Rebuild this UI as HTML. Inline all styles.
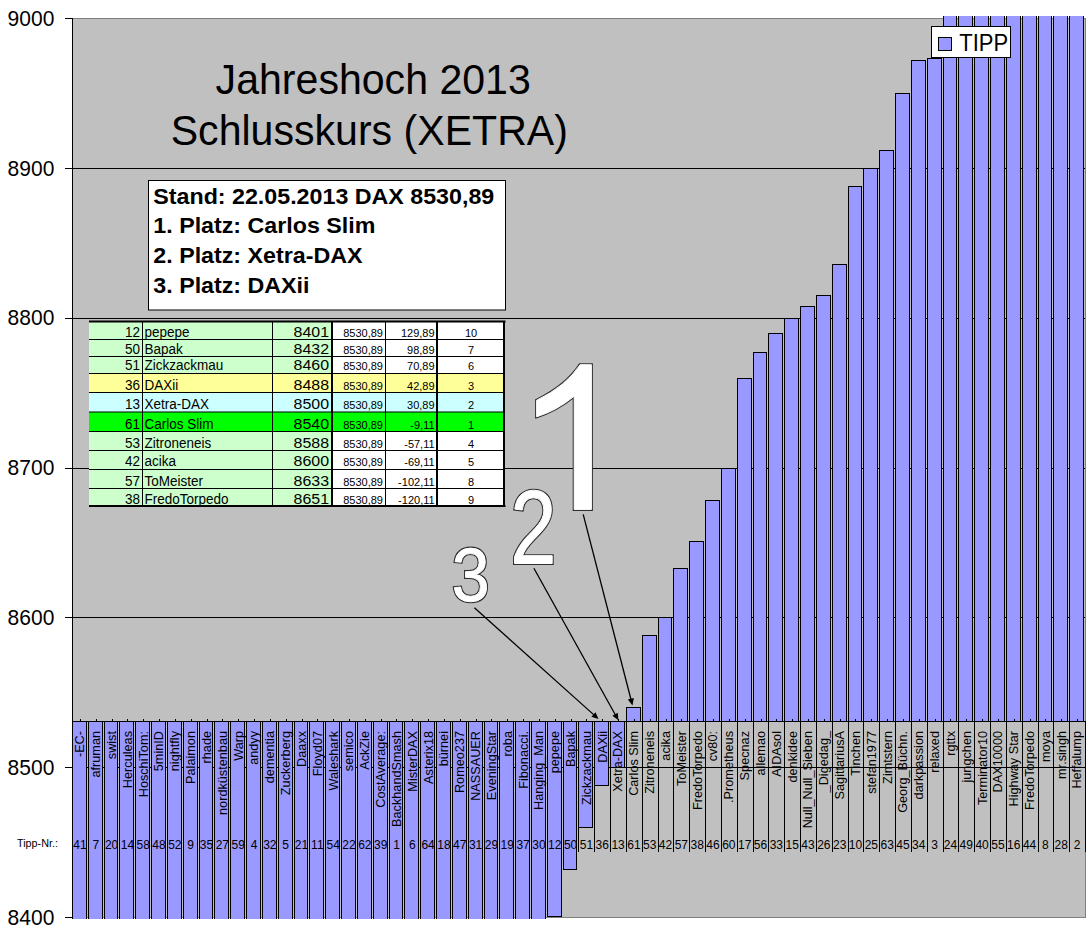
<!DOCTYPE html><html><head><meta charset="utf-8"><style>html,body{margin:0;padding:0;background:#fff;width:1088px;height:928px;overflow:hidden}svg{display:block}text{font-family:"Liberation Sans",sans-serif}</style></head><body>
<svg width="1088" height="928" viewBox="0 0 1088 928">
<rect x="72.0" y="18.0" width="1013.0" height="899.0" fill="#c0c0c0"/>
<line x1="72.0" y1="168.5" x2="1085.0" y2="168.5" stroke="#000"/>
<line x1="72.0" y1="318.5" x2="1085.0" y2="318.5" stroke="#000"/>
<line x1="72.0" y1="468.5" x2="1085.0" y2="468.5" stroke="#000"/>
<line x1="72.0" y1="617.5" x2="1085.0" y2="617.5" stroke="#000"/>
<line x1="72.0" y1="767.5" x2="1085.0" y2="767.5" stroke="#000"/>
<rect x="72.5" y="18.5" width="1013.0" height="899.0" fill="none" stroke="#808080"/>
<defs><clipPath id="pc"><rect x="0" y="16" width="1088" height="903"/></clipPath></defs>
<g clip-path="url(#pc)" fill="#9999ff" stroke="#000">
<rect x="72.5" y="721.5" width="14" height="204"/>
<rect x="88.5" y="721.5" width="14" height="204"/>
<rect x="104.5" y="721.5" width="13" height="204"/>
<rect x="119.5" y="721.5" width="14" height="204"/>
<rect x="135.5" y="721.5" width="14" height="204"/>
<rect x="151.5" y="721.5" width="14" height="204"/>
<rect x="167.5" y="721.5" width="14" height="204"/>
<rect x="183.5" y="721.5" width="14" height="204"/>
<rect x="199.5" y="721.5" width="13" height="204"/>
<rect x="214.5" y="721.5" width="14" height="204"/>
<rect x="230.5" y="721.5" width="14" height="204"/>
<rect x="246.5" y="721.5" width="14" height="204"/>
<rect x="262.5" y="721.5" width="14" height="204"/>
<rect x="278.5" y="721.5" width="14" height="204"/>
<rect x="294.5" y="721.5" width="13" height="204"/>
<rect x="309.5" y="721.5" width="14" height="204"/>
<rect x="325.5" y="721.5" width="14" height="204"/>
<rect x="341.5" y="721.5" width="14" height="204"/>
<rect x="357.5" y="721.5" width="14" height="204"/>
<rect x="373.5" y="721.5" width="14" height="204"/>
<rect x="389.5" y="721.5" width="13" height="204"/>
<rect x="404.5" y="721.5" width="14" height="204"/>
<rect x="420.5" y="721.5" width="14" height="204"/>
<rect x="436.5" y="721.5" width="14" height="204"/>
<rect x="452.5" y="721.5" width="14" height="204"/>
<rect x="468.5" y="721.5" width="14" height="204"/>
<rect x="484.5" y="721.5" width="13" height="204"/>
<rect x="499.5" y="721.5" width="14" height="204"/>
<rect x="515.5" y="721.5" width="14" height="204"/>
<rect x="531.5" y="721.5" width="14" height="204"/>
<rect x="547.5" y="721.5" width="14" height="195"/>
<rect x="563.5" y="721.5" width="13" height="148"/>
<rect x="578.5" y="721.5" width="14" height="106"/>
<rect x="594.5" y="721.5" width="14" height="64"/>
<rect x="610.5" y="721.5" width="14" height="46"/>
<rect x="626.5" y="707.5" width="14" height="14"/>
<rect x="642.5" y="635.5" width="14" height="86"/>
<rect x="658.5" y="617.5" width="13" height="104"/>
<rect x="673.5" y="568.5" width="14" height="153"/>
<rect x="689.5" y="541.5" width="14" height="180"/>
<rect x="705.5" y="500.5" width="14" height="221"/>
<rect x="721.5" y="468.5" width="14" height="253"/>
<rect x="737.5" y="378.5" width="14" height="343"/>
<rect x="753.5" y="352.5" width="13" height="369"/>
<rect x="768.5" y="333.5" width="14" height="388"/>
<rect x="784.5" y="318.5" width="14" height="403"/>
<rect x="800.5" y="306.5" width="14" height="415"/>
<rect x="816.5" y="295.5" width="14" height="426"/>
<rect x="832.5" y="264.5" width="14" height="457"/>
<rect x="848.5" y="186.5" width="13" height="535"/>
<rect x="863.5" y="168.5" width="14" height="553"/>
<rect x="879.5" y="150.5" width="14" height="571"/>
<rect x="895.5" y="93.5" width="14" height="628"/>
<rect x="911.5" y="60.5" width="14" height="661"/>
<rect x="927.5" y="58.5" width="14" height="663"/>
<rect x="943.5" y="14.5" width="13" height="707"/>
<rect x="958.5" y="14.5" width="14" height="707"/>
<rect x="974.5" y="14.5" width="14" height="707"/>
<rect x="990.5" y="14.5" width="14" height="707"/>
<rect x="1006.5" y="14.5" width="14" height="707"/>
<rect x="1022.5" y="14.5" width="14" height="707"/>
<rect x="1038.5" y="14.5" width="13" height="707"/>
<rect x="1053.5" y="14.5" width="14" height="707"/>
<rect x="1069.5" y="14.5" width="14" height="707"/>
</g>
<line x1="72.0" y1="721.5" x2="1086.0" y2="721.5" stroke="#000"/>
<path d="M80.5 719.0V721.5M96.5 719.0V721.5M112.5 719.0V721.5M127.5 719.0V721.5M143.5 719.0V721.5M159.5 719.0V721.5M175.5 719.0V721.5M191.5 719.0V721.5M207.5 719.0V721.5M222.5 719.0V721.5M238.5 719.0V721.5M254.5 719.0V721.5M270.5 719.0V721.5M286.5 719.0V721.5M302.5 719.0V721.5M317.5 719.0V721.5M333.5 719.0V721.5M349.5 719.0V721.5M365.5 719.0V721.5M381.5 719.0V721.5M396.5 719.0V721.5M412.5 719.0V721.5M428.5 719.0V721.5M444.5 719.0V721.5M460.5 719.0V721.5M476.5 719.0V721.5M491.5 719.0V721.5M507.5 719.0V721.5M523.5 719.0V721.5M539.5 719.0V721.5M555.5 719.0V721.5M571.5 719.0V721.5M586.5 719.0V721.5M602.5 719.0V721.5M618.5 719.0V721.5M634.5 719.0V721.5M650.5 719.0V721.5M666.5 719.0V721.5M681.5 719.0V721.5M697.5 719.0V721.5M713.5 719.0V721.5M729.5 719.0V721.5M745.5 719.0V721.5M761.5 719.0V721.5M776.5 719.0V721.5M792.5 719.0V721.5M808.5 719.0V721.5M824.5 719.0V721.5M840.5 719.0V721.5M855.5 719.0V721.5M871.5 719.0V721.5M887.5 719.0V721.5M903.5 719.0V721.5M919.5 719.0V721.5M935.5 719.0V721.5M950.5 719.0V721.5M966.5 719.0V721.5M982.5 719.0V721.5M998.5 719.0V721.5M1014.5 719.0V721.5M1030.5 719.0V721.5M1045.5 719.0V721.5M1061.5 719.0V721.5M1077.5 719.0V721.5M72.5 721.5V852M88.5 721.5V852M104.5 721.5V852M119.5 721.5V852M135.5 721.5V852M151.5 721.5V852M167.5 721.5V852M183.5 721.5V852M199.5 721.5V852M214.5 721.5V852M230.5 721.5V852M246.5 721.5V852M262.5 721.5V852M278.5 721.5V852M294.5 721.5V852M309.5 721.5V852M325.5 721.5V852M341.5 721.5V852M357.5 721.5V852M373.5 721.5V852M389.5 721.5V852M404.5 721.5V852M420.5 721.5V852M436.5 721.5V852M452.5 721.5V852M468.5 721.5V852M484.5 721.5V852M499.5 721.5V852M515.5 721.5V852M531.5 721.5V852M547.5 721.5V852M563.5 721.5V852M578.5 721.5V852M594.5 721.5V852M610.5 721.5V852M626.5 721.5V852M642.5 721.5V852M658.5 721.5V852M673.5 721.5V852M689.5 721.5V852M705.5 721.5V852M721.5 721.5V852M737.5 721.5V852M753.5 721.5V852M768.5 721.5V852M784.5 721.5V852M800.5 721.5V852M816.5 721.5V852M832.5 721.5V852M848.5 721.5V852M863.5 721.5V852M879.5 721.5V852M895.5 721.5V852M911.5 721.5V852M927.5 721.5V852M943.5 721.5V852M958.5 721.5V852M974.5 721.5V852M990.5 721.5V852M1006.5 721.5V852M1022.5 721.5V852M1038.5 721.5V852M1053.5 721.5V852M1069.5 721.5V852M1085.5 721.5V852M72.5 18.0V918.0M65 18.5H72.0M65 168.5H72.0M65 318.5H72.0M65 468.5H72.0M65 617.5H72.0M65 767.5H72.0M65 917.5H72.0" stroke="#000" fill="none"/>
<text transform="translate(54.30,25.70) scale(1.0,1.04)" font-size="21" text-anchor="end">9000</text>
<text transform="translate(54.30,175.53) scale(1.0,1.04)" font-size="21" text-anchor="end">8900</text>
<text transform="translate(54.30,325.37) scale(1.0,1.04)" font-size="21" text-anchor="end">8800</text>
<text transform="translate(54.30,475.20) scale(1.0,1.04)" font-size="21" text-anchor="end">8700</text>
<text transform="translate(54.30,625.03) scale(1.0,1.04)" font-size="21" text-anchor="end">8600</text>
<text transform="translate(54.30,774.87) scale(1.0,1.04)" font-size="21" text-anchor="end">8500</text>
<text transform="translate(54.30,924.70) scale(1.0,1.04)" font-size="21" text-anchor="end">8400</text>
<text transform="translate(84.31,731) rotate(-90)" font-size="12.7" text-anchor="end">-EC-</text>
<text x="79.91" y="848.5" font-size="12" text-anchor="middle">41</text>
<text transform="translate(100.14,731) rotate(-90)" font-size="12.7" text-anchor="end">afruman</text>
<text x="95.74" y="848.5" font-size="12" text-anchor="middle">7</text>
<text transform="translate(115.97,731) rotate(-90)" font-size="12.7" text-anchor="end">swist</text>
<text x="111.57" y="848.5" font-size="12" text-anchor="middle">20</text>
<text transform="translate(131.80,731) rotate(-90)" font-size="12.7" text-anchor="end">Herculeas</text>
<text x="127.40" y="848.5" font-size="12" text-anchor="middle">14</text>
<text transform="translate(147.63,731) rotate(-90)" font-size="12.7" text-anchor="end">HoschiTom:</text>
<text x="143.23" y="848.5" font-size="12" text-anchor="middle">58</text>
<text transform="translate(163.45,731) rotate(-90)" font-size="12.7" text-anchor="end">5minID</text>
<text x="159.05" y="848.5" font-size="12" text-anchor="middle">48</text>
<text transform="translate(179.28,731) rotate(-90)" font-size="12.7" text-anchor="end">nightfly</text>
<text x="174.88" y="848.5" font-size="12" text-anchor="middle">52</text>
<text transform="translate(195.11,731) rotate(-90)" font-size="12.7" text-anchor="end">Palaimon</text>
<text x="190.71" y="848.5" font-size="12" text-anchor="middle">9</text>
<text transform="translate(210.94,731) rotate(-90)" font-size="12.7" text-anchor="end">rhade</text>
<text x="206.54" y="848.5" font-size="12" text-anchor="middle">35</text>
<text transform="translate(226.77,731) rotate(-90)" font-size="12.7" text-anchor="end">nordküstenbau</text>
<text x="222.37" y="848.5" font-size="12" text-anchor="middle">27</text>
<text transform="translate(242.60,731) rotate(-90)" font-size="12.7" text-anchor="end">Warp</text>
<text x="238.20" y="848.5" font-size="12" text-anchor="middle">59</text>
<text transform="translate(258.42,731) rotate(-90)" font-size="12.7" text-anchor="end">andyy</text>
<text x="254.02" y="848.5" font-size="12" text-anchor="middle">4</text>
<text transform="translate(274.25,731) rotate(-90)" font-size="12.7" text-anchor="end">dementia</text>
<text x="269.85" y="848.5" font-size="12" text-anchor="middle">32</text>
<text transform="translate(290.08,731) rotate(-90)" font-size="12.7" text-anchor="end">Zuckerberg</text>
<text x="285.68" y="848.5" font-size="12" text-anchor="middle">5</text>
<text transform="translate(305.91,731) rotate(-90)" font-size="12.7" text-anchor="end">Daaxx</text>
<text x="301.51" y="848.5" font-size="12" text-anchor="middle">21</text>
<text transform="translate(321.74,731) rotate(-90)" font-size="12.7" text-anchor="end">Floyd07</text>
<text x="317.34" y="848.5" font-size="12" text-anchor="middle">11</text>
<text transform="translate(337.56,731) rotate(-90)" font-size="12.7" text-anchor="end">Waleshark</text>
<text x="333.16" y="848.5" font-size="12" text-anchor="middle">54</text>
<text transform="translate(353.39,731) rotate(-90)" font-size="12.7" text-anchor="end">semico</text>
<text x="348.99" y="848.5" font-size="12" text-anchor="middle">22</text>
<text transform="translate(369.22,731) rotate(-90)" font-size="12.7" text-anchor="end">AckZie</text>
<text x="364.82" y="848.5" font-size="12" text-anchor="middle">62</text>
<text transform="translate(385.05,731) rotate(-90)" font-size="12.7" text-anchor="end">CostAverage:</text>
<text x="380.65" y="848.5" font-size="12" text-anchor="middle">39</text>
<text transform="translate(400.88,731) rotate(-90)" font-size="12.7" text-anchor="end">BackhandSmash</text>
<text x="396.48" y="848.5" font-size="12" text-anchor="middle">1</text>
<text transform="translate(416.70,731) rotate(-90)" font-size="12.7" text-anchor="end">MisterDAX</text>
<text x="412.30" y="848.5" font-size="12" text-anchor="middle">6</text>
<text transform="translate(432.53,731) rotate(-90)" font-size="12.7" text-anchor="end">Asterix18</text>
<text x="428.13" y="848.5" font-size="12" text-anchor="middle">64</text>
<text transform="translate(448.36,731) rotate(-90)" font-size="12.7" text-anchor="end">bürnei</text>
<text x="443.96" y="848.5" font-size="12" text-anchor="middle">18</text>
<text transform="translate(464.19,731) rotate(-90)" font-size="12.7" text-anchor="end">Romeo237</text>
<text x="459.79" y="848.5" font-size="12" text-anchor="middle">47</text>
<text transform="translate(480.02,731) rotate(-90)" font-size="12.7" text-anchor="end">NASSAUER</text>
<text x="475.62" y="848.5" font-size="12" text-anchor="middle">31</text>
<text transform="translate(495.85,731) rotate(-90)" font-size="12.7" text-anchor="end">EveningStar</text>
<text x="491.45" y="848.5" font-size="12" text-anchor="middle">29</text>
<text transform="translate(511.67,731) rotate(-90)" font-size="12.7" text-anchor="end">roba</text>
<text x="507.27" y="848.5" font-size="12" text-anchor="middle">19</text>
<text transform="translate(527.50,731) rotate(-90)" font-size="12.7" text-anchor="end">Fibonacci.</text>
<text x="523.10" y="848.5" font-size="12" text-anchor="middle">37</text>
<text transform="translate(543.33,731) rotate(-90)" font-size="12.7" text-anchor="end">Hanging_Man</text>
<text x="538.93" y="848.5" font-size="12" text-anchor="middle">30</text>
<text transform="translate(559.16,731) rotate(-90)" font-size="12.7" text-anchor="end">pepepe</text>
<text x="554.76" y="848.5" font-size="12" text-anchor="middle">12</text>
<text transform="translate(574.99,731) rotate(-90)" font-size="12.7" text-anchor="end">Bapak</text>
<text x="570.59" y="848.5" font-size="12" text-anchor="middle">50</text>
<text transform="translate(590.81,731) rotate(-90)" font-size="12.7" text-anchor="end">Zickzackmau</text>
<text x="586.41" y="848.5" font-size="12" text-anchor="middle">51</text>
<text transform="translate(606.64,731) rotate(-90)" font-size="12.7" text-anchor="end">DAXii</text>
<text x="602.24" y="848.5" font-size="12" text-anchor="middle">36</text>
<text transform="translate(622.47,731) rotate(-90)" font-size="12.7" text-anchor="end">Xetra-DAX</text>
<text x="618.07" y="848.5" font-size="12" text-anchor="middle">13</text>
<text transform="translate(638.30,731) rotate(-90)" font-size="12.7" text-anchor="end">Carlos Slim</text>
<text x="633.90" y="848.5" font-size="12" text-anchor="middle">61</text>
<text transform="translate(654.13,731) rotate(-90)" font-size="12.7" text-anchor="end">Zitroneneis</text>
<text x="649.73" y="848.5" font-size="12" text-anchor="middle">53</text>
<text transform="translate(669.95,731) rotate(-90)" font-size="12.7" text-anchor="end">acika</text>
<text x="665.55" y="848.5" font-size="12" text-anchor="middle">42</text>
<text transform="translate(685.78,731) rotate(-90)" font-size="12.7" text-anchor="end">ToMeister</text>
<text x="681.38" y="848.5" font-size="12" text-anchor="middle">57</text>
<text transform="translate(701.61,731) rotate(-90)" font-size="12.7" text-anchor="end">FredoTorpedo</text>
<text x="697.21" y="848.5" font-size="12" text-anchor="middle">38</text>
<text transform="translate(717.44,731) rotate(-90)" font-size="12.7" text-anchor="end">cv80:</text>
<text x="713.04" y="848.5" font-size="12" text-anchor="middle">46</text>
<text transform="translate(733.27,731) rotate(-90)" font-size="12.7" text-anchor="end">.Prometheus</text>
<text x="728.87" y="848.5" font-size="12" text-anchor="middle">60</text>
<text transform="translate(749.10,731) rotate(-90)" font-size="12.7" text-anchor="end">Specnaz</text>
<text x="744.70" y="848.5" font-size="12" text-anchor="middle">17</text>
<text transform="translate(764.92,731) rotate(-90)" font-size="12.7" text-anchor="end">allemao</text>
<text x="760.52" y="848.5" font-size="12" text-anchor="middle">56</text>
<text transform="translate(780.75,731) rotate(-90)" font-size="12.7" text-anchor="end">AIDAsol</text>
<text x="776.35" y="848.5" font-size="12" text-anchor="middle">33</text>
<text transform="translate(796.58,731) rotate(-90)" font-size="12.7" text-anchor="end">denkidee</text>
<text x="792.18" y="848.5" font-size="12" text-anchor="middle">15</text>
<text transform="translate(812.41,731) rotate(-90)" font-size="12.7" text-anchor="end">Null_Null_Sieben</text>
<text x="808.01" y="848.5" font-size="12" text-anchor="middle">43</text>
<text transform="translate(828.24,731) rotate(-90)" font-size="12.7" text-anchor="end">_Digedag_</text>
<text x="823.84" y="848.5" font-size="12" text-anchor="middle">26</text>
<text transform="translate(844.06,731) rotate(-90)" font-size="12.7" text-anchor="end">SagittariusA</text>
<text x="839.66" y="848.5" font-size="12" text-anchor="middle">23</text>
<text transform="translate(859.89,731) rotate(-90)" font-size="12.7" text-anchor="end">Tinchen</text>
<text x="855.49" y="848.5" font-size="12" text-anchor="middle">10</text>
<text transform="translate(875.72,731) rotate(-90)" font-size="12.7" text-anchor="end">stefan1977</text>
<text x="871.32" y="848.5" font-size="12" text-anchor="middle">25</text>
<text transform="translate(891.55,731) rotate(-90)" font-size="12.7" text-anchor="end">Zimtstern</text>
<text x="887.15" y="848.5" font-size="12" text-anchor="middle">63</text>
<text transform="translate(907.38,731) rotate(-90)" font-size="12.7" text-anchor="end">Georg_Büchn.</text>
<text x="902.98" y="848.5" font-size="12" text-anchor="middle">45</text>
<text transform="translate(923.20,731) rotate(-90)" font-size="12.7" text-anchor="end">darkpassion</text>
<text x="918.80" y="848.5" font-size="12" text-anchor="middle">34</text>
<text transform="translate(939.03,731) rotate(-90)" font-size="12.7" text-anchor="end">relaxed</text>
<text x="934.63" y="848.5" font-size="12" text-anchor="middle">3</text>
<text transform="translate(954.86,731) rotate(-90)" font-size="12.7" text-anchor="end">rgttx</text>
<text x="950.46" y="848.5" font-size="12" text-anchor="middle">24</text>
<text transform="translate(970.69,731) rotate(-90)" font-size="12.7" text-anchor="end">jungchen</text>
<text x="966.29" y="848.5" font-size="12" text-anchor="middle">49</text>
<text transform="translate(986.52,731) rotate(-90)" font-size="12.7" text-anchor="end">Terminator10</text>
<text x="982.12" y="848.5" font-size="12" text-anchor="middle">40</text>
<text transform="translate(1002.35,731) rotate(-90)" font-size="12.7" text-anchor="end">DAX10000</text>
<text x="997.95" y="848.5" font-size="12" text-anchor="middle">55</text>
<text transform="translate(1018.17,731) rotate(-90)" font-size="12.7" text-anchor="end">Highway Star</text>
<text x="1013.77" y="848.5" font-size="12" text-anchor="middle">16</text>
<text transform="translate(1034.00,731) rotate(-90)" font-size="12.7" text-anchor="end">FredoTorpedo</text>
<text x="1029.60" y="848.5" font-size="12" text-anchor="middle">44</text>
<text transform="translate(1049.83,731) rotate(-90)" font-size="12.7" text-anchor="end">moya</text>
<text x="1045.43" y="848.5" font-size="12" text-anchor="middle">8</text>
<text transform="translate(1065.66,731) rotate(-90)" font-size="12.7" text-anchor="end">mr.singh</text>
<text x="1061.26" y="848.5" font-size="12" text-anchor="middle">28</text>
<text transform="translate(1081.49,731) rotate(-90)" font-size="12.7" text-anchor="end">Heffalump</text>
<text x="1077.09" y="848.5" font-size="12" text-anchor="middle">2</text>
<text x="17" y="847" font-size="10.8">Tipp-Nr.:</text>
<text transform="translate(373.20,93.50) scale(1.0,1.045)" font-size="41.1" text-anchor="middle">Jahreshoch 2013</text>
<text transform="translate(369.30,145.00) scale(1.0,1.045)" font-size="41.1" text-anchor="middle">Schlusskurs (XETRA)</text>
<rect x="148.5" y="180.5" width="357" height="129.5" fill="#fff" stroke="#000"/>
<text transform="translate(153.30,203.60) scale(1.057,1.04)" font-size="22" font-weight="bold">Stand: 22.05.2013 DAX 8530,89</text>
<text transform="translate(153.30,233.45) scale(1.057,1.04)" font-size="22" font-weight="bold">1. Platz: Carlos Slim</text>
<text transform="translate(153.30,263.30) scale(1.057,1.04)" font-size="22" font-weight="bold">2. Platz: Xetra-DAX</text>
<text transform="translate(153.30,293.15) scale(1.057,1.04)" font-size="22" font-weight="bold">3. Platz: DAXii</text>
<rect x="931.5" y="26.5" width="79" height="31" fill="#fff" stroke="#000"/>
<rect x="938.5" y="37.5" width="13" height="13" fill="#9999ff" stroke="#000"/>
<text transform="translate(959.20,50.80) scale(1.0,1.07)" font-size="22">TIPP</text>
<rect x="89" y="322" width="243" height="17.5" fill="#ccffcc"/>
<rect x="332" y="322" width="173" height="17.5" fill="#ffffff"/>
<rect x="89" y="339.5" width="243" height="17.0" fill="#ccffcc"/>
<rect x="332" y="339.5" width="173" height="17.0" fill="#ffffff"/>
<rect x="89" y="356.5" width="243" height="17.0" fill="#ccffcc"/>
<rect x="332" y="356.5" width="173" height="17.0" fill="#ffffff"/>
<rect x="89" y="373.5" width="243" height="19.0" fill="#ffff99"/>
<rect x="332" y="373.5" width="173" height="19.0" fill="#ffff99"/>
<rect x="89" y="392.5" width="243" height="19.5" fill="#ccffff"/>
<rect x="332" y="392.5" width="173" height="19.5" fill="#ccffff"/>
<rect x="89" y="412" width="243" height="19.5" fill="#00ff00"/>
<rect x="332" y="412" width="173" height="19.5" fill="#00ff00"/>
<rect x="89" y="431.5" width="243" height="19.0" fill="#ccffcc"/>
<rect x="332" y="431.5" width="173" height="19.0" fill="#ffffff"/>
<rect x="89" y="450.5" width="243" height="19.0" fill="#ccffcc"/>
<rect x="332" y="450.5" width="173" height="19.0" fill="#ffffff"/>
<rect x="89" y="469.5" width="243" height="19.0" fill="#ccffcc"/>
<rect x="332" y="469.5" width="173" height="19.0" fill="#ffffff"/>
<rect x="89" y="488.5" width="243" height="18.0" fill="#ccffcc"/>
<rect x="332" y="488.5" width="173" height="18.0" fill="#ffffff"/>
<path d="M89 339.5H504M89 356.5H504M89 373.5H504M89 392.5H504M89 412H504M89 431.5H504M89 450.5H504M89 469.5H504M89 488.5H504M142.5 322V506M272.5 322V506M385.5 322V506" stroke="#000" fill="none"/>
<path d="M89 321.5H505.5M89 506H505.5M332 321V507M437 321V507M504 321V507" stroke="#000" stroke-width="2" fill="none"/>
<text transform="translate(140.00,337.10) scale(1.0,1.04)" font-size="13.5" text-anchor="end">12</text>
<text transform="translate(144.60,337.10) scale(1.0,1.04)" font-size="13.5">pepepe</text>
<text transform="translate(329,337.1) scale(1,1.04)" font-size="14" text-anchor="end" textLength="35.5" lengthAdjust="spacingAndGlyphs">8401</text>
<text transform="translate(383.00,337.10) scale(1.0,1.04)" font-size="11" text-anchor="end">8530,89</text>
<text transform="translate(434.60,337.10) scale(1.0,1.04)" font-size="11" text-anchor="end">129,89</text>
<text transform="translate(471.00,337.10) scale(1.0,1.04)" font-size="11" text-anchor="middle">10</text>
<text transform="translate(140.00,353.60) scale(1.0,1.04)" font-size="13.5" text-anchor="end">50</text>
<text transform="translate(144.60,353.60) scale(1.0,1.04)" font-size="13.5">Bapak</text>
<text transform="translate(329,353.6) scale(1,1.04)" font-size="14" text-anchor="end" textLength="35.5" lengthAdjust="spacingAndGlyphs">8432</text>
<text transform="translate(383.00,353.60) scale(1.0,1.04)" font-size="11" text-anchor="end">8530,89</text>
<text transform="translate(434.60,353.60) scale(1.0,1.04)" font-size="11" text-anchor="end">98,89</text>
<text transform="translate(471.00,353.60) scale(1.0,1.04)" font-size="11" text-anchor="middle">7</text>
<text transform="translate(140.00,370.40) scale(1.0,1.04)" font-size="13.5" text-anchor="end">51</text>
<text transform="translate(144.60,370.40) scale(1.0,1.04)" font-size="13.5">Zickzackmau</text>
<text transform="translate(329,370.4) scale(1,1.04)" font-size="14" text-anchor="end" textLength="35.5" lengthAdjust="spacingAndGlyphs">8460</text>
<text transform="translate(383.00,370.40) scale(1.0,1.04)" font-size="11" text-anchor="end">8530,89</text>
<text transform="translate(434.60,370.40) scale(1.0,1.04)" font-size="11" text-anchor="end">70,89</text>
<text transform="translate(471.00,370.40) scale(1.0,1.04)" font-size="11" text-anchor="middle">6</text>
<text transform="translate(140.00,389.50) scale(1.0,1.04)" font-size="13.5" text-anchor="end">36</text>
<text transform="translate(144.60,389.50) scale(1.0,1.04)" font-size="13.5">DAXii</text>
<text transform="translate(329,389.5) scale(1,1.04)" font-size="14" text-anchor="end" textLength="35.5" lengthAdjust="spacingAndGlyphs">8488</text>
<text transform="translate(383.00,389.50) scale(1.0,1.04)" font-size="11" text-anchor="end">8530,89</text>
<text transform="translate(434.60,389.50) scale(1.0,1.04)" font-size="11" text-anchor="end">42,89</text>
<text transform="translate(471.00,389.50) scale(1.0,1.04)" font-size="11" text-anchor="middle">3</text>
<text transform="translate(140.00,409.40) scale(1.0,1.04)" font-size="13.5" text-anchor="end">13</text>
<text transform="translate(144.60,409.40) scale(1.0,1.04)" font-size="13.5">Xetra-DAX</text>
<text transform="translate(329,409.4) scale(1,1.04)" font-size="14" text-anchor="end" textLength="35.5" lengthAdjust="spacingAndGlyphs">8500</text>
<text transform="translate(383.00,409.40) scale(1.0,1.04)" font-size="11" text-anchor="end">8530,89</text>
<text transform="translate(434.60,409.40) scale(1.0,1.04)" font-size="11" text-anchor="end">30,89</text>
<text transform="translate(471.00,409.40) scale(1.0,1.04)" font-size="11" text-anchor="middle">2</text>
<text transform="translate(140.00,429.10) scale(1.0,1.04)" font-size="13.5" text-anchor="end">61</text>
<text transform="translate(144.60,429.10) scale(1.0,1.04)" font-size="13.5">Carlos Slim</text>
<text transform="translate(329,429.1) scale(1,1.04)" font-size="14" text-anchor="end" textLength="35.5" lengthAdjust="spacingAndGlyphs">8540</text>
<text transform="translate(383.00,429.10) scale(1.0,1.04)" font-size="11" text-anchor="end">8530,89</text>
<text transform="translate(434.60,429.10) scale(1.0,1.04)" font-size="11" text-anchor="end">-9,11</text>
<text transform="translate(471.00,429.10) scale(1.0,1.04)" font-size="11" text-anchor="middle">1</text>
<text transform="translate(140.00,447.70) scale(1.0,1.04)" font-size="13.5" text-anchor="end">53</text>
<text transform="translate(144.60,447.70) scale(1.0,1.04)" font-size="13.5">Zitroneneis</text>
<text transform="translate(329,447.7) scale(1,1.04)" font-size="14" text-anchor="end" textLength="35.5" lengthAdjust="spacingAndGlyphs">8588</text>
<text transform="translate(383.00,447.70) scale(1.0,1.04)" font-size="11" text-anchor="end">8530,89</text>
<text transform="translate(434.60,447.70) scale(1.0,1.04)" font-size="11" text-anchor="end">-57,11</text>
<text transform="translate(471.00,447.70) scale(1.0,1.04)" font-size="11" text-anchor="middle">4</text>
<text transform="translate(140.00,466.40) scale(1.0,1.04)" font-size="13.5" text-anchor="end">42</text>
<text transform="translate(144.60,466.40) scale(1.0,1.04)" font-size="13.5">acika</text>
<text transform="translate(329,466.4) scale(1,1.04)" font-size="14" text-anchor="end" textLength="35.5" lengthAdjust="spacingAndGlyphs">8600</text>
<text transform="translate(383.00,466.40) scale(1.0,1.04)" font-size="11" text-anchor="end">8530,89</text>
<text transform="translate(434.60,466.40) scale(1.0,1.04)" font-size="11" text-anchor="end">-69,11</text>
<text transform="translate(471.00,466.40) scale(1.0,1.04)" font-size="11" text-anchor="middle">5</text>
<text transform="translate(140.00,485.70) scale(1.0,1.04)" font-size="13.5" text-anchor="end">57</text>
<text transform="translate(144.60,485.70) scale(1.0,1.04)" font-size="13.5">ToMeister</text>
<text transform="translate(329,485.7) scale(1,1.04)" font-size="14" text-anchor="end" textLength="35.5" lengthAdjust="spacingAndGlyphs">8633</text>
<text transform="translate(383.00,485.70) scale(1.0,1.04)" font-size="11" text-anchor="end">8530,89</text>
<text transform="translate(434.60,485.70) scale(1.0,1.04)" font-size="11" text-anchor="end">-102,11</text>
<text transform="translate(471.00,485.70) scale(1.0,1.04)" font-size="11" text-anchor="middle">8</text>
<text transform="translate(140.00,504.00) scale(1.0,1.04)" font-size="13.5" text-anchor="end">38</text>
<text transform="translate(144.60,504.00) scale(1.0,1.04)" font-size="13.5">FredoTorpedo</text>
<text transform="translate(329,504) scale(1,1.04)" font-size="14" text-anchor="end" textLength="35.5" lengthAdjust="spacingAndGlyphs">8651</text>
<text transform="translate(383.00,504.00) scale(1.0,1.04)" font-size="11" text-anchor="end">8530,89</text>
<text transform="translate(434.60,504.00) scale(1.0,1.04)" font-size="11" text-anchor="end">-120,11</text>
<text transform="translate(471.00,504.00) scale(1.0,1.04)" font-size="11" text-anchor="middle">9</text>
<path transform="translate(510.338,563.500) scale(0.04041,-0.05126)" d="M103 0V127Q154 244 227.5 333.5Q301 423 382.0 495.5Q463 568 542.5 630.0Q622 692 686.0 754.0Q750 816 789.5 884.0Q829 952 829 1038Q829 1154 761.0 1218.0Q693 1282 572 1282Q457 1282 382.5 1219.5Q308 1157 295 1044L111 1061Q131 1230 254.5 1330.0Q378 1430 572 1430Q785 1430 899.5 1329.5Q1014 1229 1014 1044Q1014 962 976.5 881.0Q939 800 865.0 719.0Q791 638 582 468Q467 374 399.0 298.5Q331 223 301 153H1036V0Z" fill="none" stroke="#303030" stroke-width="3" vector-effect="non-scaling-stroke"/><path transform="translate(510.338,563.500) scale(0.04041,-0.05126)" d="M103 0V127Q154 244 227.5 333.5Q301 423 382.0 495.5Q463 568 542.5 630.0Q622 692 686.0 754.0Q750 816 789.5 884.0Q829 952 829 1038Q829 1154 761.0 1218.0Q693 1282 572 1282Q457 1282 382.5 1219.5Q308 1157 295 1044L111 1061Q131 1230 254.5 1330.0Q378 1430 572 1430Q785 1430 899.5 1329.5Q1014 1229 1014 1044Q1014 962 976.5 881.0Q939 800 865.0 719.0Q791 638 582 468Q467 374 399.0 298.5Q331 223 301 153H1036V0Z" fill="#fff" stroke="#fff" stroke-width="1" vector-effect="non-scaling-stroke"/>
<path transform="translate(451.705,601.059) scale(0.03326,-0.03703)" d="M1049 389Q1049 194 925.0 87.0Q801 -20 571 -20Q357 -20 229.5 76.5Q102 173 78 362L264 379Q300 129 571 129Q707 129 784.5 196.0Q862 263 862 395Q862 510 773.5 574.5Q685 639 518 639H416V795H514Q662 795 743.5 859.5Q825 924 825 1038Q825 1151 758.5 1216.5Q692 1282 561 1282Q442 1282 368.5 1221.0Q295 1160 283 1049L102 1063Q122 1236 245.5 1333.0Q369 1430 563 1430Q775 1430 892.5 1331.5Q1010 1233 1010 1057Q1010 922 934.5 837.5Q859 753 715 723V719Q873 702 961.0 613.0Q1049 524 1049 389Z" fill="none" stroke="#303030" stroke-width="3" vector-effect="non-scaling-stroke"/><path transform="translate(451.705,601.059) scale(0.03326,-0.03703)" d="M1049 389Q1049 194 925.0 87.0Q801 -20 571 -20Q357 -20 229.5 76.5Q102 173 78 362L264 379Q300 129 571 129Q707 129 784.5 196.0Q862 263 862 395Q862 510 773.5 574.5Q685 639 518 639H416V795H514Q662 795 743.5 859.5Q825 924 825 1038Q825 1151 758.5 1216.5Q692 1282 561 1282Q442 1282 368.5 1221.0Q295 1160 283 1049L102 1063Q122 1236 245.5 1333.0Q369 1430 563 1430Q775 1430 892.5 1331.5Q1010 1233 1010 1057Q1010 922 934.5 837.5Q859 753 715 723V719Q873 702 961.0 613.0Q1049 524 1049 389Z" fill="#fff" stroke="#fff" stroke-width="1" vector-effect="non-scaling-stroke"/>
<path d="M574.2 509.4H591.4V364.7H580.1Q566 386 536.6 400.3V416.8Q556 411 574.2 396.2Z" fill="none" stroke="#303030" stroke-width="3"/><path d="M574.2 509.4H591.4V364.7H580.1Q566 386 536.6 400.3V416.8Q556 411 574.2 396.2Z" fill="#fff" stroke="#fff" stroke-width="1"/>
<line x1="583.2" y1="514.4" x2="631.05" y2="699.78" stroke="#000" stroke-width="1.3"/><path d="M632.5 705.4L627.80 699.59L633.80 698.04Z" fill="#000"/>
<line x1="533.9" y1="568.2" x2="615.58" y2="715.23" stroke="#000" stroke-width="1.3"/><path d="M618.4 720.3L612.39 715.86L617.81 712.85Z" fill="#000"/>
<line x1="474.4" y1="607.8" x2="594.18" y2="715.13" stroke="#000" stroke-width="1.3"/><path d="M598.5 719.0L591.37 716.77L595.50 712.15Z" fill="#000"/>
</svg></body></html>
